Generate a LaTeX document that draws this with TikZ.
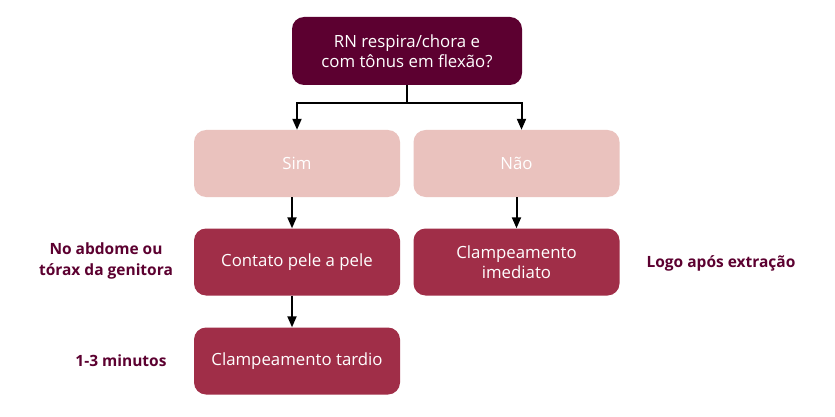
\documentclass[tikz,border=0pt]{standalone}
\usepackage{fontspec}
\setmainfont{Open Sans}
\usetikzlibrary{arrows.meta}
\definecolor{dark}{HTML}{5C0030}
\definecolor{light}{HTML}{EAC2BE}
\definecolor{mid}{HTML}{A02E48}
\tikzset{
  box/.style={rounded corners=12pt, minimum width=206pt, minimum height=67pt, align=center, text=white, font=\fontsize{16.8}{20}\selectfont, inner sep=0pt},
  topbox/.style={box, fill=dark, minimum width=230pt, minimum height=68pt},
  lightbox/.style={box, fill=light},
  midbox/.style={box, fill=mid},
  note/.style={text=dark, font=\bfseries\fontsize{15.5}{21}\selectfont, align=center},
  conn/.style={line width=2pt, -{Triangle[length=11pt,width=9pt]}}
}
\begin{document}
\begin{tikzpicture}[x=1pt,y=-1pt]
\useasboundingbox (0,0) rectangle (835,417);
\fill[white] (0,0) rectangle (835,417);
\node[topbox] (top) at (407,51) {RN respira/chora e\\com tônus em flexão?};
\node[lightbox] (sim) at (297,163.5) {Sim};
\node[lightbox] (nao) at (516.5,163.5) {Não};
\node[midbox] (contato) at (297,262) {Contato pele a pele};
\node[midbox] (imediato) at (516.5,262) {Clampeamento\\imediato};
\node[midbox] (tardio) at (297,361) {Clampeamento tardio};
\node[note] (n1) at (106,261) {No abdome ou\\tórax da genitora};
\node[note] (n2) at (121,361) {1-3 minutos};
\node[note] (n3) at (721,263) {Logo após extração};
\coordinate (split) at (407,103);
\draw[line width=2pt] (top.south) -- (split);
\draw[conn] (split) -| (sim.north);
\draw[conn] (split) -| ([xshift=5pt]nao.north);
\draw[conn] ([xshift=-5pt]sim.south) -- ([xshift=-5pt]contato.north);
\draw[conn] (nao.south) -- (imediato.north);
\draw[conn] ([xshift=-5pt]contato.south) -- ([xshift=-5pt]tardio.north);
\end{tikzpicture}
\end{document}
